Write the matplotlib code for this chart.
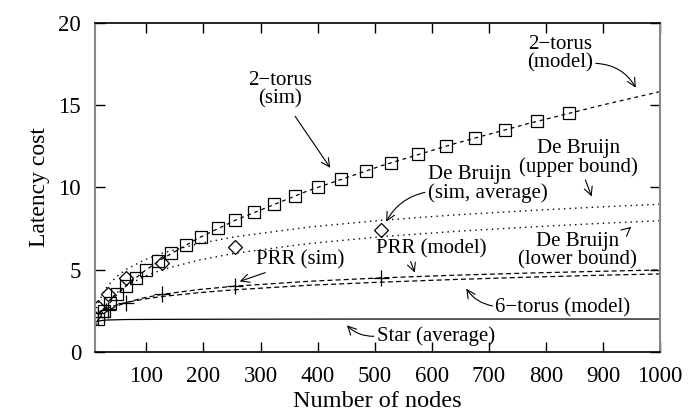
import matplotlib.pyplot as plt

# Datos
# 2-torus (sim): cuadrados
torus2_n = [16, 25, 36, 49, 64, 81, 100, 121, 144, 169, 196, 225, 256, 289, 324, 361,
            400, 441, 484, 529, 576, 625, 676, 729, 784, 841]
torus2_sim = [2.0, 2.5, 3.0, 3.5, 4.0, 4.5, 5.0, 5.5, 6.0, 6.5, 7.0, 7.5, 8.0, 8.5, 9.0, 9.5,
              10.0, 10.5, 11.0, 11.5, 12.0, 12.5, 13.0, 13.5, 14.0, 14.5]

# De Bruijn (sim, average): rombos
db_n = [16, 32, 64, 128, 256, 512]
db_sim = [2.7, 3.55, 4.5, 5.4, 6.4, 7.4]

# PRR (sim): cruces
prr_n = [16, 32, 64, 128, 256, 512]
prr_sim = [2.1, 2.55, 3.0, 3.5, 4.0, 4.5]

# Curvas de los modelos
model_n = [8, 12, 16, 24, 32, 48, 64, 96, 128, 192, 256, 384, 512, 640, 768, 896, 1000]
torus2_model = [1.41, 1.73, 2.0, 2.45, 2.83, 3.46, 4.0, 4.9, 5.66, 6.93, 8.0, 9.8, 11.31,
                12.65, 13.86, 14.97, 15.81]
db_upper = [2.0, 2.58, 3.0, 3.58, 4.0, 4.58, 5.0, 5.58, 6.0, 6.58, 7.0, 7.58, 8.0, 8.32,
            8.58, 8.81, 8.97]
db_lower = [1.0, 1.58, 2.0, 2.58, 3.0, 3.58, 4.0, 4.58, 5.0, 5.58, 6.0, 6.58, 7.0, 7.32,
            7.58, 7.81, 7.97]

model2_n = [16, 24, 32, 48, 64, 96, 128, 192, 256, 384, 512, 640, 768, 896, 1000]
prr_model = [2.0, 2.29, 2.5, 2.79, 3.0, 3.29, 3.5, 3.79, 4.0, 4.29, 4.5, 4.66, 4.79, 4.9, 4.98]
torus6_model = [2.38, 2.56, 2.67, 2.85, 3.0, 3.21, 3.37, 3.6, 3.78, 4.05, 4.24, 4.4, 4.54,
                4.66, 4.74]

star_n = [8, 12, 16, 24, 32, 64, 128, 256, 512, 1000]
star_avg = [1.75, 1.83, 1.875, 1.92, 1.94, 1.97, 1.98, 1.99, 2.0, 2.0]

plt.rcParams['font.family'] = ['Liberation Serif', 'DejaVu Serif']

fig = plt.figure(figsize=(6.9, 4.19), dpi=100)
ax = fig.add_axes([0.1377, 0.160, 0.8188, 0.786])

# Lineas de los modelos
ax.plot(model_n, torus2_model, color='black', lw=0.9, ls=(0, (3, 3)))
ax.plot(model_n, db_upper, color='black', lw=1.0, ls=(0, (1, 3)))
ax.plot(model_n, db_lower, color='black', lw=1.0, ls=(0, (1, 3)))
ax.plot(model2_n, prr_model, color='black', lw=0.9, ls=(0, (4, 2.5)))
ax.plot(model2_n, torus6_model, color='black', lw=0.9, ls=(0, (4, 2.5)))
ax.plot(star_n, star_avg, color='black', lw=0.9)

# Puntos de simulacion
ax.plot(torus2_n, torus2_sim, ls='none', marker='s', ms=8.5, mfc='none', mec='black', mew=0.9)
ax.plot(db_n, db_sim, ls='none', marker='D', ms=7, mfc='none', mec='black', mew=0.9)
ax.plot(prr_n, prr_sim, ls='none', marker='+', ms=11, mec='black', mew=0.9)

ax.set_xlim(10, 1000)
ax.set_ylim(0, 20)
ax.set_xticks([100, 200, 300, 400, 500, 600, 700, 800, 900, 1000])
ax.set_yticks([0, 5, 10, 15, 20])
ax.tick_params(direction='in', length=7, width=1, top=True, right=True,
               labelsize=16.5, pad=10)
ax.set_xlabel("Number of nodes", fontsize=17.5, labelpad=3)
ax.set_ylabel("Latency cost", fontsize=17, labelpad=6)

for lado in ['left', 'right']:
    ax.spines[lado].set_color('#888888')
    ax.spines[lado].set_linewidth(1.5)
for lado in ['top', 'bottom']:
    ax.spines[lado].set_linewidth(1.2)

# Etiquetas con flechas
flecha = dict(arrowstyle='->', color='black', lw=0.8)
fs = 15

ax.annotate("2\u2212torus\n(sim)", xy=(425, 11.04), xytext=(335, 15.9), fontsize=fs,
            ha='center', va='center', linespacing=0.95,
            arrowprops=dict(flecha, shrinkA=4, relpos=(0.65, 0.0)))
ax.annotate("2\u2212torus\n(model)", xy=(960, 15.9), xytext=(825, 18.1), fontsize=fs,
            ha='center', va='center', linespacing=0.95,
            arrowprops=dict(flecha, connectionstyle='arc3,rad=-0.3', shrinkA=0,
                            relpos=(1.0, 0.25)))
ax.annotate("De Bruijn\n(upper bound)", xy=(882, 9.28), xytext=(857, 11.77), fontsize=fs,
            ha='center', va='center', linespacing=0.95,
            arrowprops=dict(flecha, shrinkA=0, relpos=(0.55, 0.0)))
ax.annotate("De Bruijn\n(sim, average)", xy=(518, 7.76), xytext=(593, 10.19), fontsize=fs,
            ha='left', va='center', linespacing=0.95, multialignment='left',
            arrowprops=dict(flecha, connectionstyle='arc3,rad=0.25', shrinkA=0,
                            relpos=(0.0, 0.3)))
ax.annotate("PRR (model)", xy=(572, 4.66), xytext=(600, 6.24), fontsize=fs,
            ha='center', va='center',
            arrowprops=dict(flecha, shrinkA=0, relpos=(0.3, 0.0)))
ax.annotate("De Bruijn\n(lower bound)", xy=(953, 7.7), xytext=(856, 6.12), fontsize=fs,
            ha='center', va='center', linespacing=0.95,
            arrowprops=dict(flecha, shrinkA=2, relpos=(0.82, 0.8)))
ax.annotate("6\u2212torus (model)", xy=(658, 3.99), xytext=(830, 2.655), fontsize=fs,
            ha='center', va='center',
            arrowprops=dict(flecha, connectionstyle='arc3,rad=-0.25', shrinkA=0,
                            relpos=(0.0, 0.6)))
ax.annotate("PRR (sim)", xy=(259, 4.23), xytext=(369, 5.57), fontsize=fs,
            ha='center', va='center',
            arrowprops=dict(flecha, shrinkA=0, relpos=(0.2, 0.0)))
ax.annotate("Star (average)", xy=(448, 1.74), xytext=(607, 0.96), fontsize=fs,
            ha='center', va='center',
            arrowprops=dict(flecha, connectionstyle='arc3,rad=-0.25', shrinkA=0,
                            relpos=(0.0, 0.5)))

fig.savefig("out.png", dpi=100)
